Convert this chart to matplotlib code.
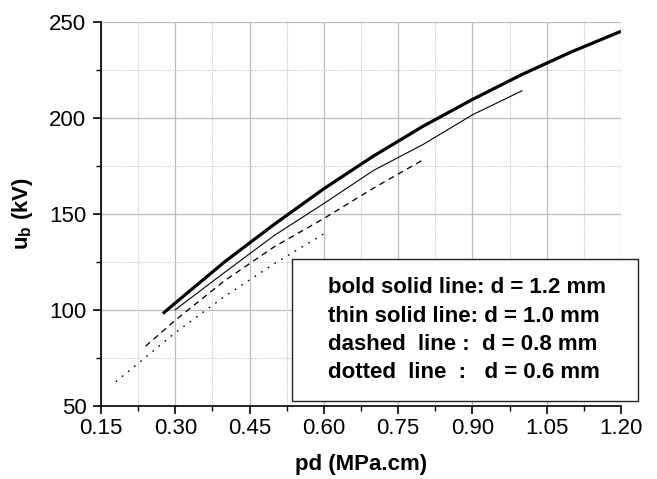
import matplotlib
matplotlib.use('Agg')
import matplotlib.pyplot as plt
from matplotlib.patches import Rectangle
from matplotlib.ticker import MultipleLocator, FormatStrFormatter

plt.rcParams['font.family'] = ['Liberation Sans', 'DejaVu Sans']
plt.rcParams['mathtext.fontset'] = 'custom'
plt.rcParams['mathtext.rm'] = 'Liberation Sans'
plt.rcParams['mathtext.bf'] = 'Liberation Sans:bold'

# breakdown voltage vs pd for four gap lengths
pd_12 = [0.275, 0.3, 0.4, 0.5, 0.6, 0.7, 0.8, 0.9, 1.0, 1.1, 1.2]
ub_12 = [98, 103.5, 125, 144.5, 163, 180, 195.5, 209.5, 222.5, 234.3, 245]

pd_10 = [0.3, 0.4, 0.5, 0.6, 0.7, 0.8, 0.9, 1.0]
ub_10 = [100, 119.5, 138.7, 155.3, 172.5, 186, 201.5, 214]

pd_08 = [0.24, 0.3, 0.4, 0.5, 0.6, 0.7, 0.8]
ub_08 = [81, 94.5, 115.2, 132.8, 147.5, 163.3, 178]

pd_06 = [0.18, 0.3, 0.4, 0.5, 0.6]
ub_06 = [62.5, 88, 107, 124, 139.5]

legend_lines = ['bold solid line: d = 1.2 mm',
                'thin solid line: d = 1.0 mm',
                'dashed  line :  d = 0.8 mm',
                'dotted  line  :   d = 0.6 mm']

fig = plt.figure(figsize=(6.57, 4.79), dpi=100)
ax = fig.add_axes([0.1537, 0.153, 0.7915, 0.8017])

ax.plot(pd_12, ub_12, color='black', lw=2.3, solid_capstyle='butt',
        solid_joinstyle='round')
ax.plot(pd_10, ub_10, color='black', lw=0.8)
ax.plot(pd_08, ub_08, color='black', lw=0.95, dashes=(4.5, 3.5))
ax.plot(pd_06, ub_06, color='black', lw=1.0, dashes=(1.2, 4.5))

ax.set_xlim(0.15, 1.20)
ax.set_ylim(50, 250)
ax.xaxis.set_major_locator(MultipleLocator(0.15))
ax.xaxis.set_minor_locator(MultipleLocator(0.075))
ax.xaxis.set_major_formatter(FormatStrFormatter('%.2f'))
ax.yaxis.set_major_locator(MultipleLocator(50))
ax.yaxis.set_minor_locator(MultipleLocator(25))

ax.grid(which='major', color='#bcbcbc', lw=0.9, ls='-')
ax.grid(which='minor', color='#c8c8c8', lw=0.8, ls=(0, (1, 1)))
ax.set_axisbelow(True)

for s in ['top', 'right']:
    ax.spines[s].set_visible(False)
for s in ['left', 'bottom']:
    ax.spines[s].set_linewidth(1.2)

ax.tick_params(which='major', direction='out', length=5.5, width=1.2,
               labelsize=16)
ax.tick_params(axis='x', which='major', pad=3)
ax.tick_params(axis='y', which='major', pad=5)
ax.tick_params(which='minor', direction='out', length=3.5, width=1.0)

ax.set_xlabel('pd (MPa.cm)', fontsize=16, fontweight='bold', labelpad=11)
ax.set_ylabel(r'u$_{\mathbf{b}}$ (kV)', fontsize=16, fontweight='bold',
              labelpad=10)

# boxed key in the lower right
box = Rectangle((0.367, 0.012), 0.666, 0.370, transform=ax.transAxes,
                facecolor='white', edgecolor='#222222', lw=1.0,
                clip_on=False, zorder=5)
ax.add_patch(box)
for i, txt in enumerate(legend_lines):
    ax.text(0.437, 0.307 - i * 0.0735, txt, transform=ax.transAxes,
            fontsize=16, fontweight='bold', va='center', ha='left',
            zorder=6)

fig.savefig('out.png', dpi=100)
